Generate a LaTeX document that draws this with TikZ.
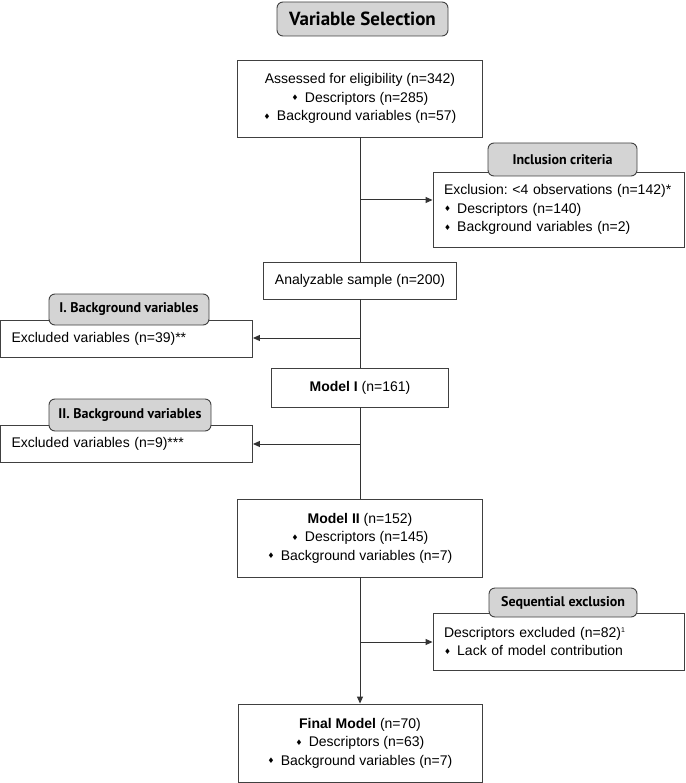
\documentclass[tikz,border=0pt]{standalone}
\usepackage{fontspec}
\setmainfont{Liberation Sans}
\newfontfamily\tabfont{PT Sans}
\newfontfamily\djv{DejaVu Sans}
\usetikzlibrary{arrows.meta}
\frenchspacing
\newcommand\dmd{{\djv\raisebox{0.15ex}{\scalebox{0.55}{♦}}}\hspace{0.45em}}
\begin{document}
\begin{tikzpicture}[x=1pt,y=-1pt,
  box/.style={draw=black!75, line width=0.9pt, fill=white, inner sep=0pt, align=center,
    font=\fontsize{14}{18.5}\selectfont\frenchspacing},
  sidebox/.style={draw=black!75, line width=0.9pt, fill=white, inner ysep=0pt, inner xsep=11pt,
    align=left, font=\fontsize{14}{18.5}\selectfont\frenchspacing},
  tabbox/.style={draw=black!75, line width=0.9pt, fill=black!17, rounded corners=6pt, inner sep=0pt,
    font=\tabfont\bfseries\fontsize{14}{16}\selectfont},
  conn/.style={draw=black!80, line width=1pt},
  arr/.style={conn, -{Triangle[length=7pt,width=6pt]}}
]
\useasboundingbox (0,0) rectangle (685,783);

% title
\node[tabbox, minimum width=171pt, minimum height=34pt, font=\tabfont\bfseries\fontsize{19}{22}\selectfont] (title) at (362.5,19) {Variable Selection};

% main column
\node[box, minimum width=245pt, minimum height=77pt] (assess) at (360,98.5)
  {Assessed for eligibility (n=342)\\ \dmd Descriptors (n=285)\\ \dmd Background variables (n=57)};
\node[box, minimum width=193pt, minimum height=37pt] (anal) at (360,280.5) {Analyzable sample (n=200)};
\node[box, minimum width=177pt, minimum height=39pt] (m1) at (360,387.5) {\textbf{Model I} (n=161)};
\node[box, minimum width=245pt, minimum height=78pt] (m2) at (360,538)
  {\textbf{Model II} (n=152)\\ \dmd Descriptors (n=145)\\ \dmd Background variables (n=7)};
\node[box, minimum width=244pt, minimum height=78pt] (final) at (360,743)
  {\textbf{Final Model} (n=70)\\ \dmd Descriptors (n=63)\\ \dmd Background variables (n=7)};

% side boxes
\node[sidebox, text width=229pt, minimum height=75pt] (incl) at (558.5,209.5)
  {Exclusion: <4 observations (n=142)*\\ \dmd Descriptors (n=140)\\ \dmd Background variables (n=2)};
\node[tabbox, minimum width=149pt, minimum height=33pt] (incltab) at (562.5,159.5) {Inclusion criteria};

\node[sidebox, text width=230pt, minimum height=37pt] (ex1) at (126.5,338.5) {Excluded variables (n=39)**};
\node[tabbox, minimum width=160pt, minimum height=31pt] (ex1tab) at (129,309.5) {I. Background variables};

\node[sidebox, text width=230pt, minimum height=37pt] (ex2) at (126.5,443.5) {Excluded variables (n=9)***};
\node[tabbox, minimum width=162pt, minimum height=32pt] (ex2tab) at (130,415) {II. Background variables};

\node[sidebox, text width=229pt, minimum height=57pt] (seq) at (558.5,641.5)
  {Descriptors excluded (n=82)\textsuperscript{\scriptsize 1}\\ \dmd Lack of model contribution};
\node[tabbox, minimum width=148pt, minimum height=29pt] (seqtab) at (563,602.5) {Sequential exclusion};

% junctions
\coordinate (j1) at (360,200);
\coordinate (j2) at (360,338);
\coordinate (j3) at (360,444);
\coordinate (j4) at (360,642);

% connectors
\draw[conn] (assess) -- (anal);
\draw[conn] (anal) -- (m1);
\draw[conn] (m1) -- (m2);
\draw[arr] (m2) -- (final);
\draw[arr] (j1) -- (j1 -| incl.west);
\draw[arr] (j2) -- (j2 -| ex1.east);
\draw[arr] (j3) -- (j3 -| ex2.east);
\draw[arr] (j4) -- (j4 -| seq.west);
\end{tikzpicture}
\end{document}
